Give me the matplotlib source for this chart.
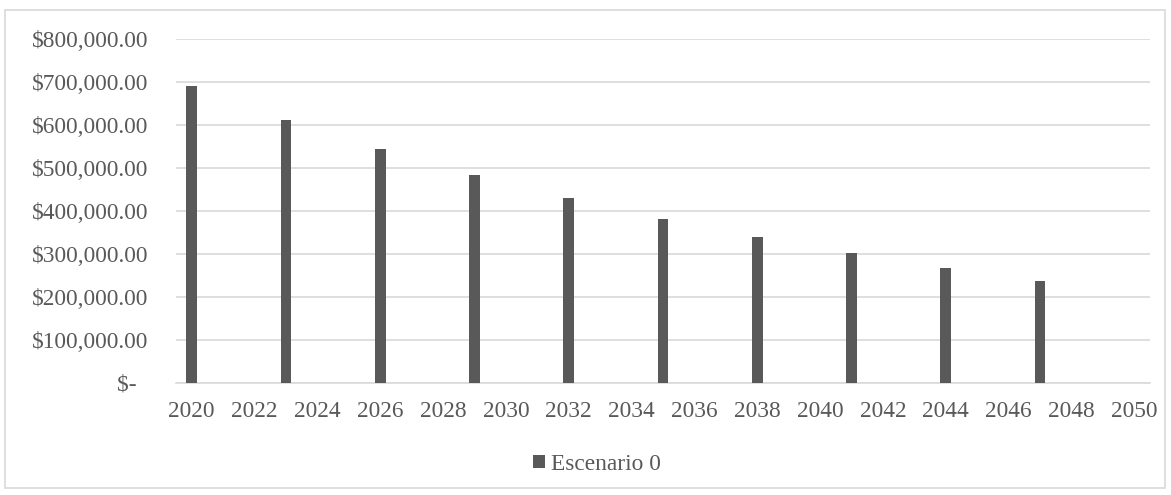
import matplotlib
matplotlib.use('Agg')
import matplotlib.pyplot as plt
from matplotlib.patches import Rectangle
from matplotlib.ticker import FuncFormatter

years = list(range(2020, 2051))
bar_years = [2020, 2023, 2026, 2029, 2032, 2035, 2038, 2041, 2044, 2047]
escenario_0 = [690000, 612000, 544000, 484000, 429500, 381000, 339000, 301500, 267000, 237000]
tick_years = list(range(2020, 2051, 2))

plt.rcParams['font.family'] = ['Liberation Serif', 'DejaVu Serif']
text_color = '#595959'
grid_color = '#d9d9d9'
fs = 16.8

fig = plt.figure(figsize=(11.71, 4.95), dpi=100)
ax = fig.add_axes([176 / 1171, 1 - 383 / 495, 974 / 1171, 344 / 495])

# category axis: one slot per year, bars only where there is data
pos = [years.index(y) for y in bar_years]
ax.bar(pos, escenario_0, width=0.34, color='#595959', zorder=3, label='Escenario 0')

ax.set_xlim(-0.5, len(years) - 0.5)
ax.set_ylim(0, 800000)
ax.set_yticks(range(0, 800001, 100000))
ax.set_xticks([years.index(y) for y in tick_years])
ax.set_xticklabels([str(y) for y in tick_years])


def money(v, p):
    if v == 0:
        return '$-  '
    return '${:,.2f}'.format(v)


ax.yaxis.set_major_formatter(FuncFormatter(money))
ax.grid(axis='y', color=grid_color, linewidth=1.2, zorder=0)
for s in ['top', 'right', 'left']:
    ax.spines[s].set_visible(False)
ax.spines['bottom'].set_color(grid_color)
ax.spines['bottom'].set_linewidth(1.2)
ax.tick_params(axis='both', length=0, labelsize=fs, colors=text_color)
ax.tick_params(axis='y', pad=20)
ax.tick_params(axis='x', pad=13)

fig.legend(loc='center', bbox_to_anchor=(597 / 1171, 1 - 464 / 495), frameon=False,
           fontsize=fs, labelcolor=text_color, handlelength=0.5, handleheight=0.5,
           handletextpad=0.25)

fig.patches.append(Rectangle((5 / 1171, 1 - 488 / 495), 1160 / 1171, 478 / 495,
                             transform=fig.transFigure, fill=False,
                             edgecolor=grid_color, linewidth=1.2))

fig.savefig('out.png', dpi=100)
